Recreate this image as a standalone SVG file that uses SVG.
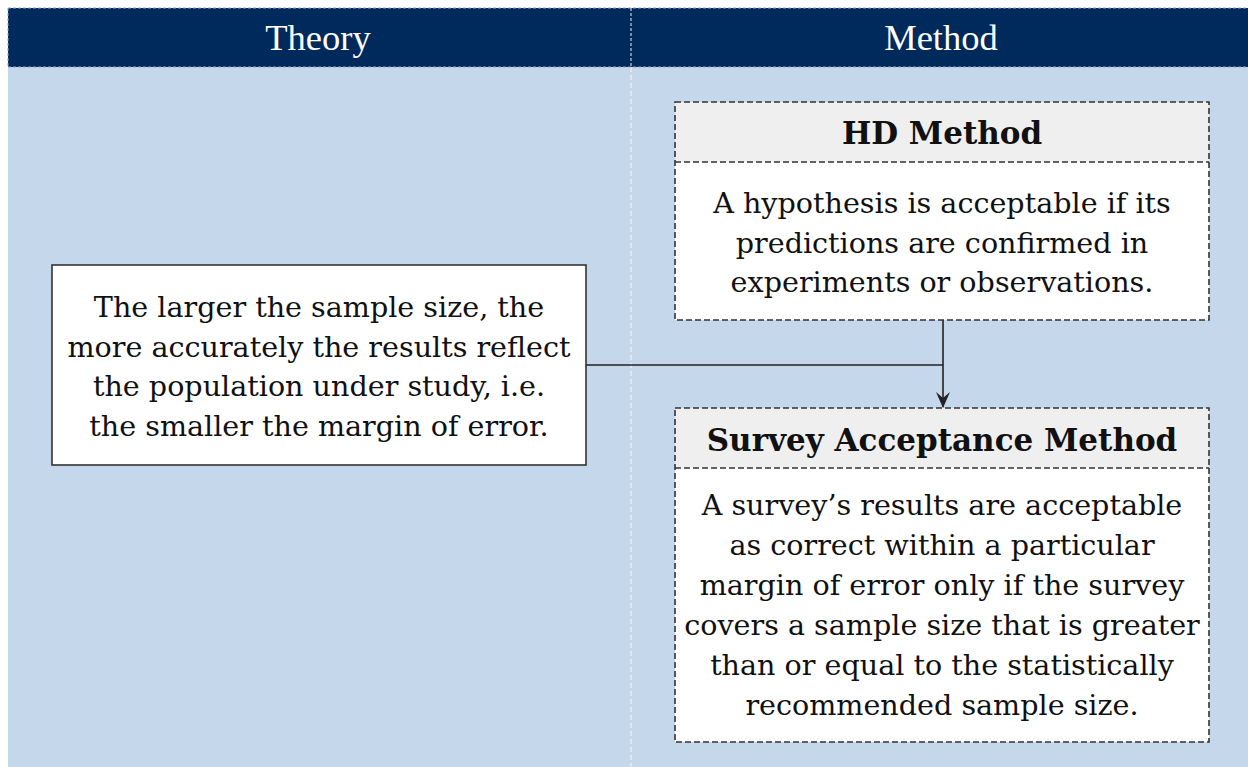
<svg xmlns="http://www.w3.org/2000/svg" width="1248" height="767" viewBox="0 0 1248 767">
<defs>
<style>
.hdr{font-family:"Liberation Serif",serif;font-size:36.5px;fill:#ffffff;text-anchor:middle}
.body{font-family:"DejaVu Serif",serif;font-size:28.6px;fill:#111111;text-anchor:middle}
.ttl{font-family:"DejaVu Serif",serif;font-size:31px;font-weight:bold;fill:#111111;text-anchor:middle}
.dbox{stroke:#333333;stroke-width:1.6;stroke-dasharray:6 3}
.conn{stroke:#222222;stroke-width:1.6;fill:none}
</style>
<marker id="arr" viewBox="0 0 16 14" refX="15" refY="7" markerWidth="16" markerHeight="14" markerUnits="userSpaceOnUse" orient="auto">
<path d="M0,0 L16,7 L0,14 L6,7 Z" fill="#222222"/>
</marker>
</defs>
<rect x="0" y="0" width="1248" height="767" fill="#ffffff"/>
<g id="background">
<rect x="8" y="67" width="1240" height="700" fill="#c5d7eb"/>
<line x1="631" y1="67" x2="631" y2="767" stroke="#e6eef7" stroke-width="1.5" stroke-dasharray="5 3"/>
</g>
<g id="header">
<rect x="8" y="8" width="1240" height="59" fill="#002a5c"/>
<line x1="8" y1="8" x2="1248" y2="8" stroke="#9aa6b8" stroke-width="1" stroke-dasharray="3 2"/>
<line x1="8" y1="67" x2="1248" y2="67" stroke="#9aa6b8" stroke-width="1" stroke-dasharray="3 2"/>
<line x1="8" y1="8" x2="8" y2="67" stroke="#9aa6b8" stroke-width="1" stroke-dasharray="3 2"/>
<line x1="631" y1="8" x2="631" y2="67" stroke="#c8d0dc" stroke-width="1.2" stroke-dasharray="3 2"/>
<text class="hdr" x="318" y="50">Theory</text>
<text class="hdr" x="941" y="50">Method</text>
</g>
<g id="connectors">
<line class="conn" x1="586" y1="365" x2="943" y2="365"/>
<line class="conn" x1="943" y1="320" x2="943" y2="407" marker-end="url(#arr)"/>
</g>
<g id="theory-node">
<rect x="52" y="265" width="534" height="200" fill="#ffffff" stroke="#333333" stroke-width="1.6"/>
<text class="body" x="319" y="317">The larger the sample size, the</text>
<text class="body" x="319" y="357">more accurately the results reflect</text>
<text class="body" x="319" y="396">the population under study, i.e.</text>
<text class="body" x="319" y="436">the smaller the margin of error.</text>
</g>
<g id="hd-method">
<rect x="675" y="102" width="534" height="60" fill="#efefef"/>
<rect x="675" y="162" width="534" height="158" fill="#ffffff"/>
<rect class="dbox" x="675" y="102" width="534" height="218" fill="none"/>
<line class="dbox" x1="675" y1="162" x2="1209" y2="162"/>
<text class="ttl" x="942" y="144">HD Method</text>
<text class="body" x="942" y="213">A hypothesis is acceptable if its</text>
<text class="body" x="942" y="253">predictions are confirmed in</text>
<text class="body" x="942" y="292">experiments or observations.</text>
</g>
<g id="survey-method">
<rect x="675" y="408" width="534" height="60" fill="#efefef"/>
<rect x="675" y="468" width="534" height="274" fill="#ffffff"/>
<rect class="dbox" x="675" y="408" width="534" height="334" fill="none"/>
<line class="dbox" x1="675" y1="468" x2="1209" y2="468"/>
<text class="ttl" x="942" y="451">Survey Acceptance Method</text>
<text class="body" x="942" y="515">A survey’s results are acceptable</text>
<text class="body" x="942" y="555">as correct within a particular</text>
<text class="body" x="942" y="595">margin of error only if the survey</text>
<text class="body" x="942" y="635">covers a sample size that is greater</text>
<text class="body" x="942" y="675">than or equal to the statistically</text>
<text class="body" x="942" y="715">recommended sample size.</text>
</g>
</svg>
